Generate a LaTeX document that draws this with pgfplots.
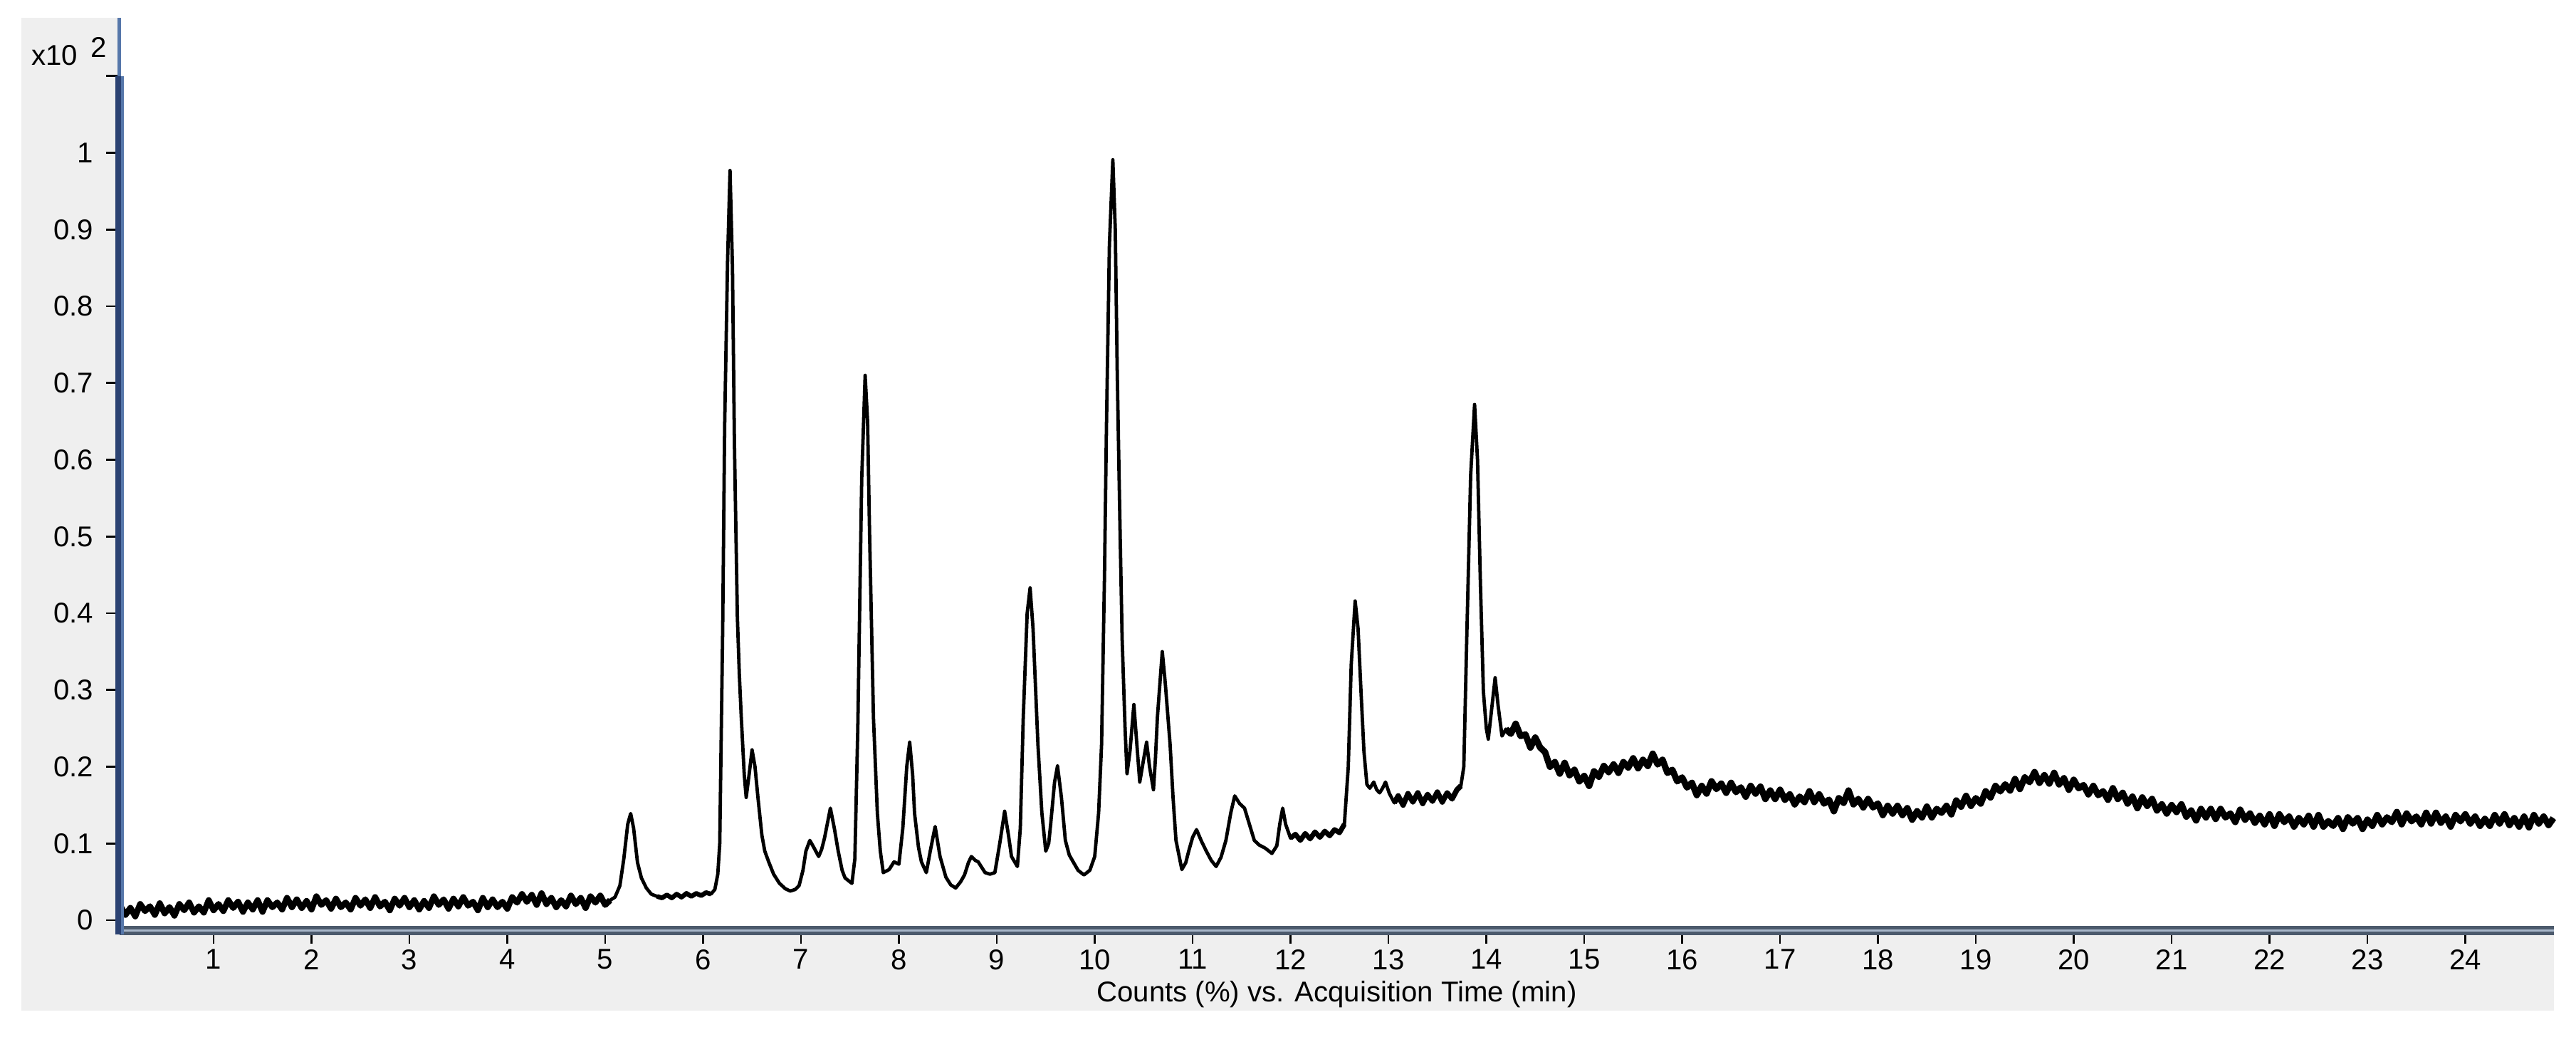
\documentclass[border=0pt]{standalone}
\usepackage{fontspec}
\setmainfont{Liberation Sans}
\usepackage{pgfplots}
\usepackage{pgfplotstable}
\pgfplotsset{compat=1.18}
\definecolor{panel}{HTML}{EFEFEF}
\definecolor{axisnavy}{HTML}{2B4272}
\definecolor{axisblue}{HTML}{5677AA}
\definecolor{axisslate}{HTML}{4C5A6C}
\definecolor{axislight}{HTML}{A7B6C9}

% chromatogram (time in min, counts in units of 10^2 %)
\pgfplotstableread{
t v
0.05 0.018
0.10 0.007
0.15 0.016
0.20 0.005
0.25 0.021
0.30 0.012
0.35 0.018
0.40 0.007
0.45 0.022
0.50 0.009
0.55 0.017
0.60 0.006
0.65 0.021
0.70 0.013
0.75 0.023
0.80 0.010
0.85 0.018
0.90 0.010
0.95 0.026
1.00 0.013
1.05 0.021
1.10 0.012
1.15 0.026
1.20 0.016
1.25 0.024
1.30 0.011
1.35 0.023
1.40 0.014
1.45 0.026
1.50 0.011
1.55 0.026
1.60 0.017
1.65 0.023
1.70 0.014
1.75 0.029
1.80 0.017
1.85 0.027
1.90 0.016
1.95 0.025
2.00 0.014
2.05 0.031
2.10 0.020
2.15 0.026
2.20 0.015
2.25 0.028
2.30 0.017
2.35 0.023
2.40 0.014
2.45 0.029
2.50 0.019
2.55 0.027
2.60 0.016
2.65 0.030
2.70 0.018
2.75 0.024
2.80 0.013
2.85 0.028
2.90 0.019
2.95 0.029
3.00 0.017
3.05 0.026
3.10 0.014
3.15 0.025
3.20 0.016
3.25 0.031
3.30 0.020
3.35 0.027
3.40 0.015
3.45 0.028
3.50 0.018
3.55 0.030
3.60 0.019
3.65 0.024
3.70 0.013
3.75 0.029
3.80 0.017
3.85 0.027
3.90 0.017
3.95 0.024
4.00 0.015
4.05 0.030
4.10 0.023
4.15 0.034
4.20 0.024
4.25 0.033
4.30 0.020
4.35 0.035
4.40 0.021
4.45 0.029
4.50 0.017
4.55 0.026
4.60 0.018
4.65 0.032
4.70 0.021
4.75 0.029
4.80 0.016
4.85 0.031
4.90 0.023
4.95 0.032
5.00 0.020
5.05 0.026
5.10 0.030
5.15 0.045
5.19 0.080
5.23 0.125
5.26 0.139
5.29 0.120
5.33 0.075
5.37 0.055
5.42 0.042
5.47 0.034
5.53 0.031
5.58 0.029
5.63 0.033
5.68 0.029
5.73 0.034
5.78 0.030
5.83 0.035
5.88 0.031
5.93 0.035
5.98 0.032
6.03 0.036
6.08 0.034
6.12 0.040
6.15 0.060
6.17 0.100
6.20 0.380
6.22 0.644
6.25 0.860
6.275 0.977
6.30 0.850
6.32 0.620
6.35 0.395
6.37 0.320
6.39 0.264
6.42 0.190
6.44 0.160
6.47 0.190
6.50 0.222
6.53 0.200
6.56 0.160
6.60 0.111
6.63 0.090
6.67 0.076
6.72 0.060
6.78 0.048
6.84 0.041
6.89 0.038
6.94 0.040
6.98 0.045
7.02 0.065
7.05 0.090
7.09 0.104
7.13 0.095
7.18 0.083
7.21 0.092
7.24 0.107
7.30 0.146
7.34 0.120
7.38 0.090
7.42 0.065
7.45 0.055
7.52 0.048
7.55 0.080
7.58 0.250
7.62 0.575
7.655 0.710
7.68 0.650
7.70 0.506
7.74 0.264
7.78 0.139
7.81 0.090
7.84 0.062
7.90 0.066
7.95 0.076
8.00 0.073
8.04 0.120
8.08 0.200
8.11 0.232
8.14 0.190
8.16 0.139
8.20 0.095
8.23 0.076
8.28 0.062
8.32 0.090
8.37 0.122
8.42 0.083
8.48 0.056
8.53 0.046
8.58 0.042
8.63 0.050
8.67 0.059
8.71 0.075
8.74 0.083
8.78 0.078
8.81 0.076
8.85 0.068
8.88 0.062
8.93 0.060
8.98 0.062
9.03 0.100
9.08 0.142
9.12 0.110
9.15 0.083
9.21 0.070
9.24 0.120
9.27 0.264
9.31 0.400
9.34 0.433
9.37 0.380
9.42 0.229
9.46 0.140
9.50 0.090
9.53 0.100
9.55 0.125
9.59 0.180
9.62 0.201
9.66 0.160
9.70 0.104
9.74 0.085
9.78 0.076
9.83 0.065
9.89 0.059
9.95 0.065
10.00 0.083
10.04 0.140
10.07 0.229
10.10 0.450
10.12 0.644
10.15 0.880
10.185 0.991
10.21 0.900
10.23 0.714
10.26 0.500
10.28 0.367
10.31 0.250
10.33 0.191
10.36 0.220
10.40 0.281
10.43 0.230
10.46 0.180
10.50 0.210
10.53 0.232
10.56 0.200
10.60 0.170
10.62 0.210
10.64 0.264
10.69 0.350
10.72 0.310
10.77 0.229
10.80 0.160
10.83 0.104
10.89 0.066
10.93 0.075
10.96 0.090
11.00 0.108
11.04 0.118
11.09 0.103
11.14 0.090
11.19 0.078
11.24 0.070
11.29 0.082
11.34 0.104
11.39 0.140
11.43 0.162
11.48 0.152
11.53 0.146
11.58 0.125
11.63 0.104
11.68 0.098
11.74 0.094
11.78 0.090
11.81 0.087
11.86 0.097
11.89 0.125
11.92 0.146
11.95 0.125
12.00 0.107
12.05 0.112
12.10 0.104
12.15 0.113
12.20 0.106
12.25 0.115
12.30 0.108
12.35 0.116
12.40 0.110
12.45 0.118
12.50 0.114
12.55 0.125
12.59 0.200
12.62 0.333
12.66 0.416
12.69 0.380
12.72 0.298
12.75 0.220
12.78 0.177
12.81 0.172
12.85 0.180
12.88 0.170
12.91 0.166
12.94 0.172
12.97 0.180
13.01 0.165
13.06 0.153
13.10 0.162
13.15 0.150
13.20 0.165
13.25 0.154
13.30 0.166
13.35 0.152
13.40 0.164
13.45 0.155
13.50 0.167
13.55 0.154
13.60 0.166
13.65 0.158
13.70 0.170
13.74 0.175
13.77 0.200
13.80 0.367
13.84 0.580
13.88 0.672
13.91 0.600
13.94 0.437
13.97 0.298
14.00 0.250
14.02 0.236
14.05 0.270
14.09 0.316
14.12 0.280
14.16 0.240
14.20 0.249
14.25 0.243
14.30 0.256
14.35 0.240
14.40 0.242
14.45 0.225
14.50 0.238
14.55 0.225
14.60 0.219
14.65 0.200
14.70 0.206
14.75 0.191
14.80 0.205
14.85 0.189
14.90 0.196
14.95 0.181
15.00 0.188
15.05 0.175
15.10 0.194
15.15 0.187
15.20 0.201
15.25 0.193
15.30 0.203
15.35 0.192
15.40 0.206
15.45 0.199
15.50 0.211
15.55 0.198
15.60 0.209
15.65 0.201
15.70 0.217
15.75 0.203
15.80 0.209
15.85 0.192
15.90 0.196
15.95 0.181
16.00 0.186
16.05 0.173
16.10 0.179
16.15 0.163
16.20 0.175
16.25 0.165
16.30 0.181
16.35 0.171
16.40 0.178
16.45 0.166
16.50 0.179
16.55 0.167
16.60 0.173
16.65 0.161
16.70 0.175
16.75 0.165
16.80 0.174
16.85 0.158
16.90 0.169
16.95 0.158
17.00 0.170
17.05 0.157
17.10 0.164
17.15 0.151
17.20 0.161
17.25 0.154
17.30 0.168
17.35 0.154
17.40 0.164
17.45 0.152
17.50 0.157
17.55 0.142
17.60 0.159
17.65 0.153
17.70 0.169
17.75 0.151
17.80 0.158
17.85 0.147
17.90 0.158
17.95 0.147
18.00 0.152
18.05 0.137
18.10 0.149
18.15 0.139
18.20 0.149
18.25 0.137
18.30 0.146
18.35 0.131
18.40 0.142
18.45 0.134
18.50 0.148
18.55 0.134
18.60 0.145
18.65 0.140
18.70 0.149
18.75 0.138
18.80 0.156
18.85 0.148
18.90 0.162
18.95 0.149
19.00 0.159
19.05 0.152
19.10 0.168
19.15 0.160
19.20 0.175
19.25 0.168
19.30 0.177
19.35 0.169
19.40 0.184
19.45 0.171
19.50 0.186
19.55 0.180
19.60 0.193
19.65 0.179
19.70 0.189
19.75 0.178
19.80 0.192
19.85 0.177
19.90 0.185
19.95 0.170
20.00 0.183
20.05 0.172
20.10 0.176
20.15 0.164
20.20 0.175
20.25 0.163
20.30 0.168
20.35 0.157
20.40 0.172
20.45 0.158
20.50 0.166
20.55 0.152
20.60 0.161
20.65 0.146
20.70 0.160
20.75 0.149
20.80 0.158
20.85 0.143
20.90 0.151
20.95 0.139
21.00 0.150
21.05 0.141
21.10 0.151
21.15 0.135
21.20 0.143
21.25 0.130
21.30 0.145
21.35 0.134
21.40 0.145
21.45 0.132
21.50 0.145
21.55 0.134
21.60 0.139
21.65 0.128
21.70 0.144
21.75 0.131
21.80 0.139
21.85 0.127
21.90 0.136
21.95 0.125
22.00 0.138
22.05 0.123
22.10 0.138
22.15 0.128
22.20 0.135
22.25 0.122
22.30 0.133
22.35 0.125
22.40 0.136
22.45 0.122
22.50 0.137
22.55 0.122
22.60 0.129
22.65 0.123
22.70 0.133
22.75 0.119
22.80 0.134
22.85 0.126
22.90 0.133
22.95 0.119
23.00 0.131
23.05 0.123
23.10 0.137
23.15 0.125
23.20 0.134
23.25 0.128
23.30 0.141
23.35 0.125
23.40 0.139
23.45 0.129
23.50 0.135
23.55 0.125
23.60 0.140
23.65 0.126
23.70 0.140
23.75 0.127
23.80 0.135
23.85 0.122
23.90 0.137
23.95 0.129
24.00 0.138
24.05 0.126
24.10 0.135
24.15 0.123
24.20 0.132
24.25 0.123
24.30 0.137
24.35 0.126
24.40 0.138
24.45 0.124
24.50 0.133
24.55 0.122
24.60 0.135
24.65 0.121
24.70 0.137
24.75 0.126
24.80 0.135
24.85 0.124
24.90 0.133
}\chrom

\begin{document}
\begin{tikzpicture}[font=\fontsize{8}{9}\selectfont]
% page frame and grey panel (1px = 0.007cm)
\path (0,0) rectangle (25.326,10.185);
\fill[panel] (0.21,0.252) rectangle (25.109,10.01);

\begin{axis}[
  at={(1.176cm,1.043cm)}, anchor=south west,
  width=23.933cm, height=8.967cm, scale only axis,
  xmin=0.04, xmax=24.905, ymin=-0.013, ymax=1.176,
  axis line style={draw=none},
  axis background/.style={fill=white},
  xtick={1,...,24},
  ytick={0,0.1,0.2,0.3,0.4,0.5,0.6,0.7,0.8,0.9,1,1.1},
  yticklabels={0,0.1,0.2,0.3,0.4,0.5,0.6,0.7,0.8,0.9,1,{}},
  xtick pos=left, ytick pos=left,
  tick align=outside, major tick length=0.133cm,
  tick style={black, line width=0.55pt},
  /pgf/number format/assume math mode=true,
  ticklabel style={font=\fontsize{8}{9}\selectfont, black},
  xticklabel style={inner sep=0.05cm},
  xlabel={Counts (\%) vs. Acquisition Time (min)},
  xlabel style={at={(rel axis cs:0.5,0)}, anchor=center, yshift=-0.63cm,
                font=\fontsize{8}{9}\selectfont},
  clip=false,
  every axis plot/.append style={black, line join=round},
]

% whole trace
\addplot[line width=0.95pt] table {\chrom};
% noisy stretches look like a thicker band
\addplot[line width=1.7pt, restrict x to domain=0:5.08] table {\chrom};
\addplot[line width=1.3pt, restrict x to domain=5.5:6.1] table {\chrom};
\addplot[line width=1.4pt, restrict x to domain=12.0:12.56] table {\chrom};
\addplot[line width=1.5pt, restrict x to domain=13.05:13.75] table {\chrom};
\addplot[line width=1.8pt, restrict x to domain=14.18:25] table {\chrom};

% axis bars in the instrument software style
\draw[axisslate, line width=0.091cm] (rel axis cs:0,0) -- (rel axis cs:1,0);
\draw[axislight, line width=0.021cm] (rel axis cs:0,0) -- (rel axis cs:1,0);
\draw[axisblue, line width=0.035cm] (axis cs:0.04,1.1) -- (rel axis cs:0,1);
\draw[axisnavy, line width=0.084cm] ([yshift=-0.045cm]rel axis cs:0,0) -- (axis cs:0.04,1.1);
\draw[axisblue, line width=0.028cm] ([xshift=0.028cm,yshift=-0.045cm]rel axis cs:0,0) -- ([xshift=0.028cm]axis cs:0.04,1.1);
\end{axis}

% exponent of the y scale
\node[anchor=west, inner sep=0pt] at (0.301,9.639) {x10};
\node[anchor=west, inner sep=0pt] at (0.882,9.723) {2};
\end{tikzpicture}
\end{document}
